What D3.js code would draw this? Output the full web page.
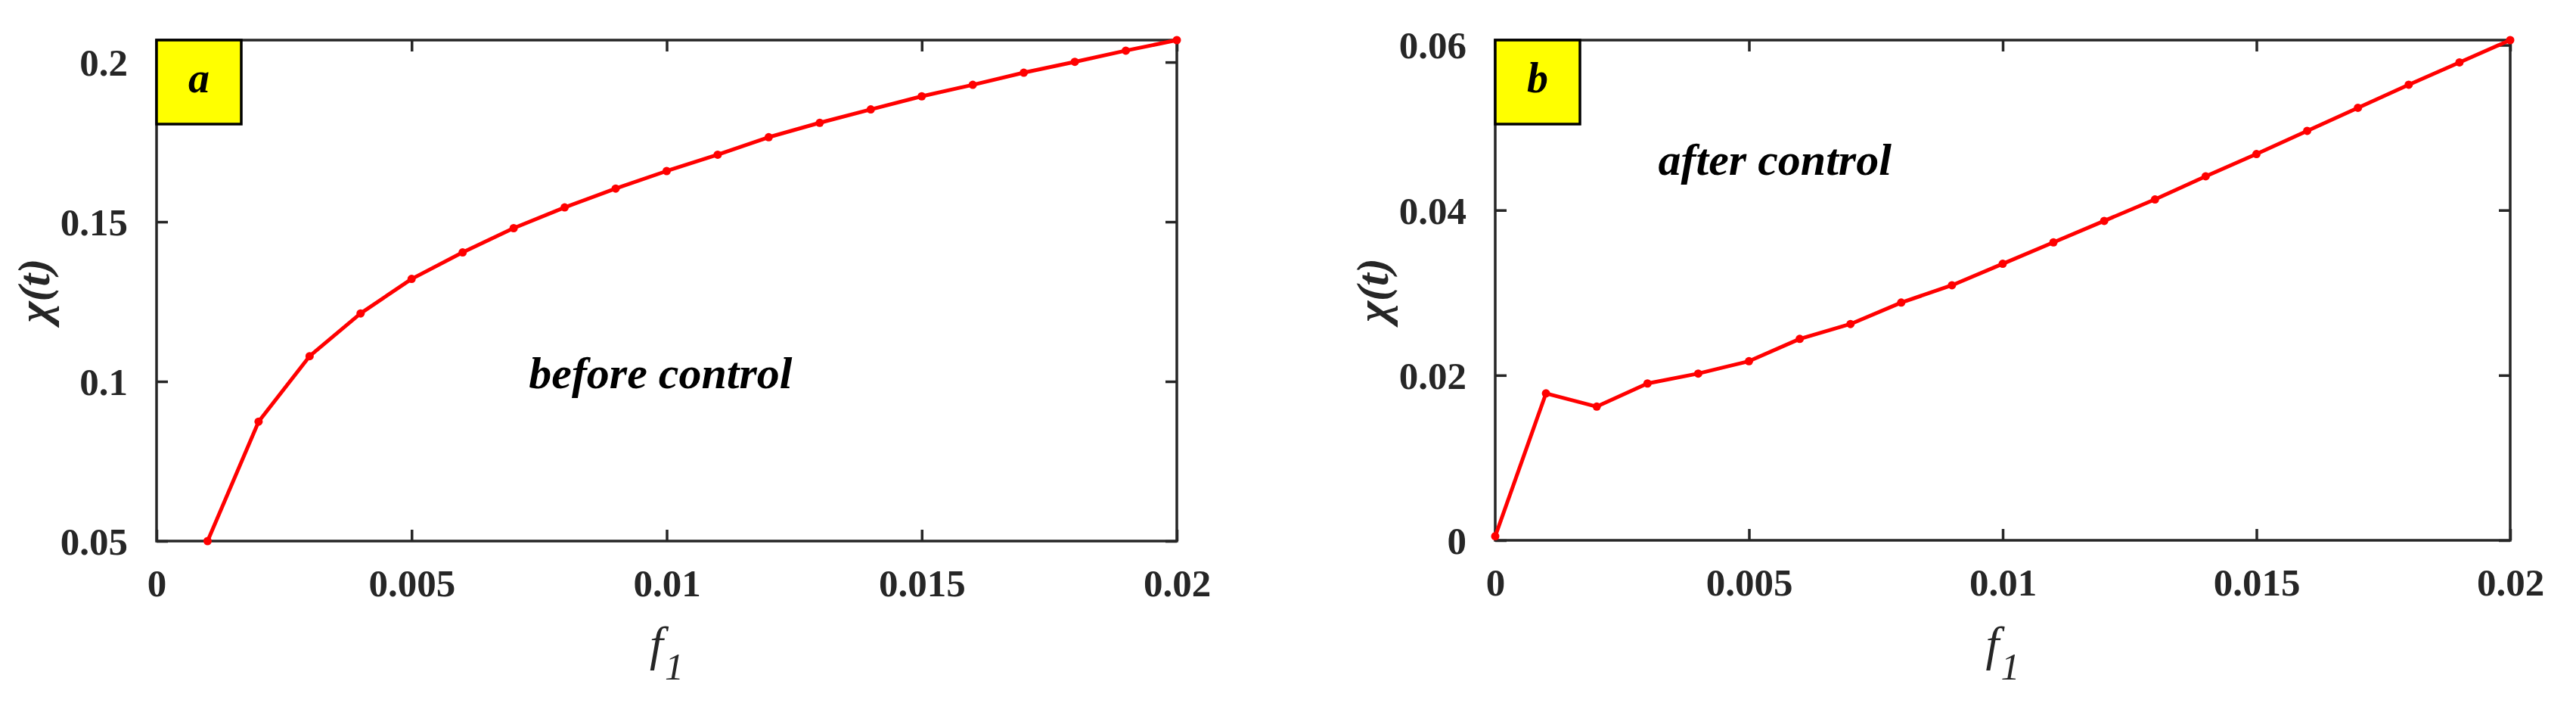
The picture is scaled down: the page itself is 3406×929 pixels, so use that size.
<!DOCTYPE html>
<html>
<head>
<meta charset="utf-8">
<script src="https://cdn.jsdelivr.net/npm/d3@7"></script>
<style>
  html, body { margin: 0; padding: 0; background: #ffffff; }
  svg { display: block; }
</style>
</head>
<body>
<svg id="chart" width="3406" height="929"></svg>
<script>
// ---------------- data ----------------
const fBefore = [0.001, 0.002, 0.003, 0.004, 0.005, 0.006, 0.007, 0.008, 0.009, 0.010,
                 0.011, 0.012, 0.013, 0.014, 0.015, 0.016, 0.017, 0.018, 0.019, 0.020];
const chiBefore = [0.0500, 0.0874, 0.1079, 0.1213, 0.1321, 0.1404, 0.1480, 0.1545, 0.1604, 0.1659,
                   0.1710, 0.1765, 0.1810, 0.1852, 0.1893, 0.1929, 0.1967, 0.2001, 0.2036, 0.2069];

const fAfter = [0.000, 0.001, 0.002, 0.003, 0.004, 0.005, 0.006, 0.007, 0.008, 0.009, 0.010,
                0.011, 0.012, 0.013, 0.014, 0.015, 0.016, 0.017, 0.018, 0.019, 0.020];
const chiAfter = [0.0005, 0.0178, 0.0162, 0.0190, 0.0202, 0.0217, 0.0244, 0.0262, 0.0288, 0.0309, 0.0335,
                  0.0361, 0.0387, 0.0413, 0.0441, 0.0468, 0.0496, 0.0524, 0.0552, 0.0579, 0.0606];

const xTicks = [0, 0.005, 0.01, 0.015, 0.02];
const xTickLabels = ["0", "0.005", "0.01", "0.015", "0.02"];
const yTicksA = [0.05, 0.1, 0.15, 0.2];
const yTickLabelsA = ["0.05", "0.1", "0.15", "0.2"];
const yTicksB = [0, 0.02, 0.04, 0.06];
const yTickLabelsB = ["0", "0.02", "0.04", "0.06"];
const xDomain = [0, 0.02];
const yDomainA = [0.05, 0.2069];
const yDomainB = [0, 0.0606];
const panelLetters = ["a", "b"];
const annotations = ["before control", "after control"];
const annotationPosA = [0.00988, 0.0979];
const annotationPosB = [0.00551, 0.0443];

// ---------------- drawing ----------------
const svg = d3.select("#chart");
svg.append("rect").attr("width", 3406).attr("height", 929).attr("fill", "#fff");

const SERIF = "'Liberation Serif', 'Times New Roman', Times, serif";
const AXC = "#262626";

function drawPanel(cfg) {
  const g = svg.append("g");
  const x = d3.scaleLinear().domain(xDomain).range([cfg.left, cfg.right]);
  const y = d3.scaleLinear().domain(cfg.yDomain).range([cfg.bottom, cfg.top]);
  const tickLen = 15;
  const fmtX = d => xTickLabels[xTicks.indexOf(d)];
  const fmtY = d => cfg.yLabels[cfg.yTicks.indexOf(d)];

  // axes (bottom with labels, top/right mirrored ticks)
  const axB = g.append("g").attr("transform", `translate(0,${cfg.bottom})`)
    .call(d3.axisBottom(x).tickValues(xTicks).tickFormat(fmtX).tickSizeInner(-tickLen).tickSizeOuter(0).tickPadding(tickLen + 22));
  const axT = g.append("g").attr("transform", `translate(0,${cfg.top})`)
    .call(d3.axisTop(x).tickValues(xTicks).tickFormat("").tickSizeInner(-tickLen).tickSizeOuter(0));
  const axL = g.append("g").attr("transform", `translate(${cfg.left},0)`)
    .call(d3.axisLeft(y).tickValues(cfg.yTicks).tickFormat(fmtY).tickSizeInner(-tickLen).tickSizeOuter(0).tickPadding(tickLen + 23));
  const axR = g.append("g").attr("transform", `translate(${cfg.right},0)`)
    .call(d3.axisRight(y).tickValues(cfg.yTicks).tickFormat("").tickSizeInner(-tickLen).tickSizeOuter(0));

  [axB, axT, axL, axR].forEach(a => {
    a.select(".domain").remove();
    a.selectAll(".tick line").attr("stroke", AXC).attr("stroke-width", 3.5);
    a.selectAll(".tick text")
      .attr("fill", AXC)
      .attr("font-family", SERIF)
      .attr("font-weight", "bold")
      .attr("font-size", 51);
  });
  axB.selectAll(".tick text").attr("dy", "0.71em");
  axL.selectAll(".tick text").attr("dy", "0.34em");

  // frame
  g.append("rect")
    .attr("x", cfg.left).attr("y", cfg.top)
    .attr("width", cfg.right - cfg.left).attr("height", cfg.bottom - cfg.top)
    .attr("fill", "none").attr("stroke", AXC).attr("stroke-width", 3.5);

  // data line
  const pts = cfg.xs.map((d, i) => [d, cfg.ys[i]]);
  g.append("path")
    .datum(pts)
    .attr("d", d3.line().x(d => x(d[0])).y(d => y(d[1])))
    .attr("fill", "none").attr("stroke", "#ff0000").attr("stroke-width", 5)
    .attr("stroke-linejoin", "round");
  g.selectAll("circle.pt").data(pts).enter().append("circle")
    .attr("class", "pt")
    .attr("cx", d => x(d[0])).attr("cy", d => y(d[1])).attr("r", 5.5)
    .attr("fill", "#ff0000");

  // annotation text
  g.append("text")
    .attr("x", x(cfg.annPos[0])).attr("y", y(cfg.annPos[1]))
    .attr("text-anchor", "middle")
    .attr("font-family", SERIF).attr("font-weight", "bold").attr("font-style", "italic")
    .attr("font-size", 60).attr("fill", "#000")
    .text(cfg.ann);

  // panel letter box
  g.append("rect")
    .attr("x", cfg.left).attr("y", cfg.top)
    .attr("width", 112).attr("height", 111)
    .attr("fill", "#ffff00").attr("stroke", "#000").attr("stroke-width", 3.5);
  g.append("text")
    .attr("x", cfg.left + 56).attr("y", cfg.top + 69)
    .attr("text-anchor", "middle")
    .attr("font-family", SERIF).attr("font-weight", "bold").attr("font-style", "italic")
    .attr("font-size", 56).attr("fill", "#000")
    .text(cfg.letter);

  // y label chi(t)
  const cy = (cfg.top + cfg.bottom) / 2;
  g.append("text")
    .attr("transform", `translate(${cfg.left - 142},${cy}) rotate(-90)`)
    .attr("text-anchor", "middle")
    .attr("font-family", SERIF).attr("font-weight", "bold").attr("font-style", "italic")
    .attr("font-size", 60).attr("fill", AXC)
    .text("\u03C7(t)");

  // x label f_1
  const xl = g.append("text")
    .attr("x", (cfg.left + cfg.right) / 2).attr("y", 872)
    .attr("text-anchor", "middle")
    .attr("font-family", SERIF).attr("font-style", "italic")
    .attr("fill", AXC);
  xl.append("tspan").attr("font-size", 64).text("f");
  xl.append("tspan").attr("font-size", 50).attr("dy", 26).attr("dx", 2).text("1");
}

drawPanel({
  left: 207, right: 1556, top: 53, bottom: 715,
  yDomain: yDomainA, yTicks: yTicksA, yLabels: yTickLabelsA,
  xs: fBefore, ys: chiBefore, ann: annotations[0], annPos: annotationPosA, letter: panelLetters[0]
});
drawPanel({
  left: 1977, right: 3319, top: 53, bottom: 714,
  yDomain: yDomainB, yTicks: yTicksB, yLabels: yTickLabelsB,
  xs: fAfter, ys: chiAfter, ann: annotations[1], annPos: annotationPosB, letter: panelLetters[1]
});
</script>
</body>
</html>
